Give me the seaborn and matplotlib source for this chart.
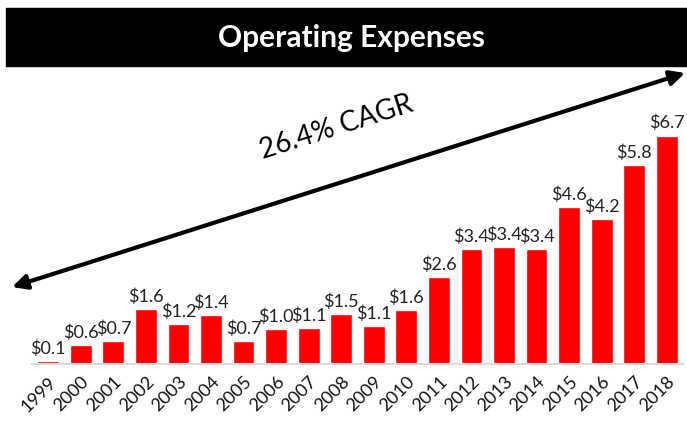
import matplotlib
matplotlib.use("Agg")
import matplotlib.pyplot as plt
from matplotlib.patches import Rectangle
import seaborn as sns
import pandas as pd

years = ["1999", "2000", "2001", "2002", "2003", "2004", "2005", "2006", "2007", "2008",
         "2009", "2010", "2011", "2012", "2013", "2014", "2015", "2016", "2017", "2018"]
expenses = [0.09, 0.56, 0.66, 1.62, 1.16, 1.44, 0.66, 1.02, 1.06, 1.46,
            1.12, 1.58, 2.56, 3.38, 3.44, 3.38, 4.59, 4.24, 5.84, 6.70]
title = "Operating Expenses"
cagr_label = "26.4% CAGR"

sns.set_theme(style="white")
plt.rcParams["font.family"] = ["Lato", "DejaVu Sans"]

W, H = 687, 425
fig = plt.figure(figsize=(W / 100, H / 100), dpi=100)
ax = fig.add_axes([32 / W, (H - 364) / H, 651 / W, 294 / H])

df = pd.DataFrame({"year": years, "value": expenses})
sns.barplot(data=df, x="year", y="value", color="#ff0000", saturation=1,
            width=0.67, ax=ax)

ax.set_xlim(-0.5, len(years) - 0.5)
ax.set_ylim(0, 294 / 34.1)
for i, v in enumerate(expenses):
    ax.annotate(f"${v:.1f}", (i, v), xytext=(0, 3), textcoords="offset points",
                ha="center", va="bottom", fontsize=13, color="#222222")

ax.set_xlabel("")
ax.set_ylabel("")
ax.set_yticks([])
ax.tick_params(axis="x", length=0, pad=7)
for lab in ax.get_xticklabels():
    lab.set_rotation(45)
    lab.set_ha("right")
    lab.set_rotation_mode("anchor")
    lab.set_fontsize(13)
    lab.set_color("#111111")
for s in ["left", "right", "top"]:
    ax.spines[s].set_visible(False)
ax.spines["bottom"].set_color("#d9d9d9")
ax.spines["bottom"].set_linewidth(1.5)

# title bar
fig.patches.append(Rectangle((6 / W, (H - 66) / H), 681 / W, 58 / H,
                             transform=fig.transFigure, color="black", zorder=0))
fig.text(352 / W, (H - 38) / H, title, ha="center", va="center",
         color="white", fontsize=21.5, fontweight="bold")

# CAGR arrow
ax.annotate("", xy=(685, H - 73), xytext=(12, H - 287),
            xycoords="figure pixels", textcoords="figure pixels",
            arrowprops=dict(arrowstyle="<|-|>", lw=3, color="black",
                            mutation_scale=22, shrinkA=0, shrinkB=0),
            annotation_clip=False)
fig.text(336 / W, (H - 127) / H, cagr_label, ha="center", va="center",
         rotation=17.6, fontsize=20, color="black", rotation_mode="anchor")

fig.savefig("out.png", dpi=100)
